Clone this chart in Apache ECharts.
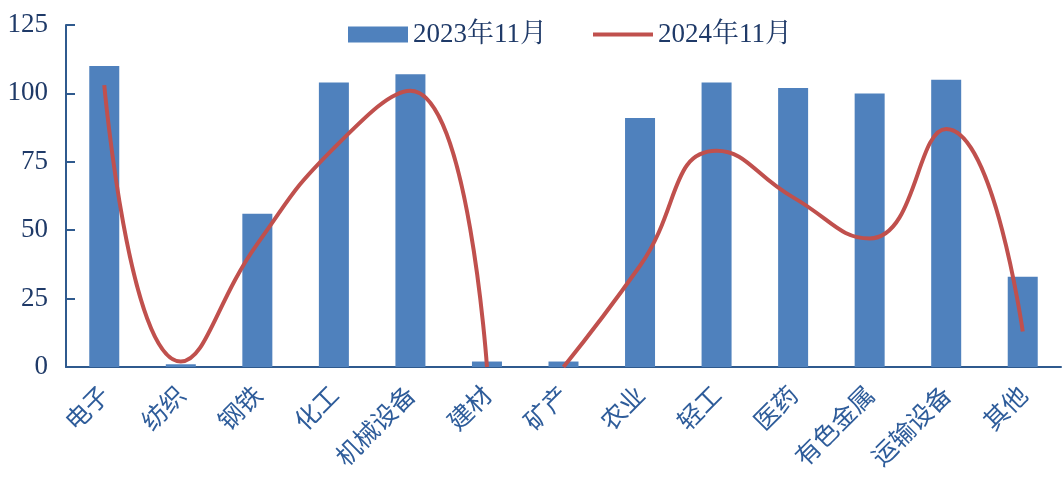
<!DOCTYPE html>
<html><head><meta charset="utf-8">
<script src="https://cdn.jsdelivr.net/npm/echarts@6/dist/echarts.min.js"></script>
<style>html,body{margin:0;padding:0;background:#fff}#c{width:1062px;height:482px}</style>
</head><body><div id="c"></div>
<script>
var categories = ['电子','纺织','钢铁','化工','机械设备','建材','矿产','农业','轻工','医药','有色金属','运输设备','其他'];
var bar2023 = [110, 1, 56, 104, 107, 2, 2, 91, 104, 102, 100, 105, 33];
var line2024 = [103, 2, 45, 80, 101, 0, 0, 37, 79, 62, 47, 87, 13];
var yTicks = [0, 25, 50, 75, 100, 125];
var seriesNames = ['2023年11月', '2024年11月'];

var splitAt = 6; // line drawn as two pieces (break between 建材 and 矿产)
var lineA = line2024.map(function(v,i){return i < splitAt ? v : null;});
var lineB = line2024.map(function(v,i){return i >= splitAt ? v : null;});

var fontFam = '"Liberation Serif","Times New Roman","Noto Serif CJK SC","Noto Sans CJK SC",serif';
var txtColor = '#1f3a68';
var axisColor = '#2f5a8e';
var chart = echarts.init(document.getElementById('c'));
chart.setOption({
  animation: false,
  legend: {
    top: 16, left: 343, itemGap: 46, itemWidth: 60, itemHeight: 16,
    textStyle: {fontFamily: fontFam, fontSize: 27, color: txtColor},
    data: [
      {name: seriesNames[0], icon: 'rect'},
      {name: seriesNames[1], icon: 'path://M0,0 L60,0 L60,4 L0,4 Z'}
    ]
  },
  grid: {left: 66, right: 1, top: 25, bottom: 115, containLabel: false},
  xAxis: {
    type: 'category', data: categories, boundaryGap: true,
    axisLine: {lineStyle: {color: axisColor, width: 2}},
    axisTick: {inside: true, length: 10, lineStyle: {color: axisColor, width: 2}},
    axisLabel: {rotate: 45, margin: 23, interval: 0, color: '#2e5c9a', fontSize: 25,
      fontFamily: '"Noto Sans CJK SC",sans-serif'}
  },
  yAxis: {
    type: 'value', min: yTicks[0], max: yTicks[yTicks.length-1], interval: 25,
    splitLine: {show: false},
    axisLine: {show: true, lineStyle: {color: axisColor, width: 2}},
    axisTick: {show: true, inside: true, length: 9, lineStyle: {color: axisColor, width: 2}},
    axisLabel: {margin: 18, color: txtColor, fontSize: 27, fontFamily: fontFam}
  },
  series: [
    {name: seriesNames[0], type: 'bar', data: bar2023, barWidth: 30,
     itemStyle: {color: '#4f81bd'}},
    {name: seriesNames[1], type: 'line', data: lineA, smooth: true, showSymbol: false,
     connectNulls: false, clip: false, lineStyle: {color: '#c0504d', width: 4}, itemStyle: {color: '#c0504d'}},
    {name: seriesNames[1], type: 'line', data: lineB, smooth: true, showSymbol: false,
     connectNulls: false, clip: false, lineStyle: {color: '#c0504d', width: 4}, itemStyle: {color: '#c0504d'}}
  ]
});
</script></body></html>
